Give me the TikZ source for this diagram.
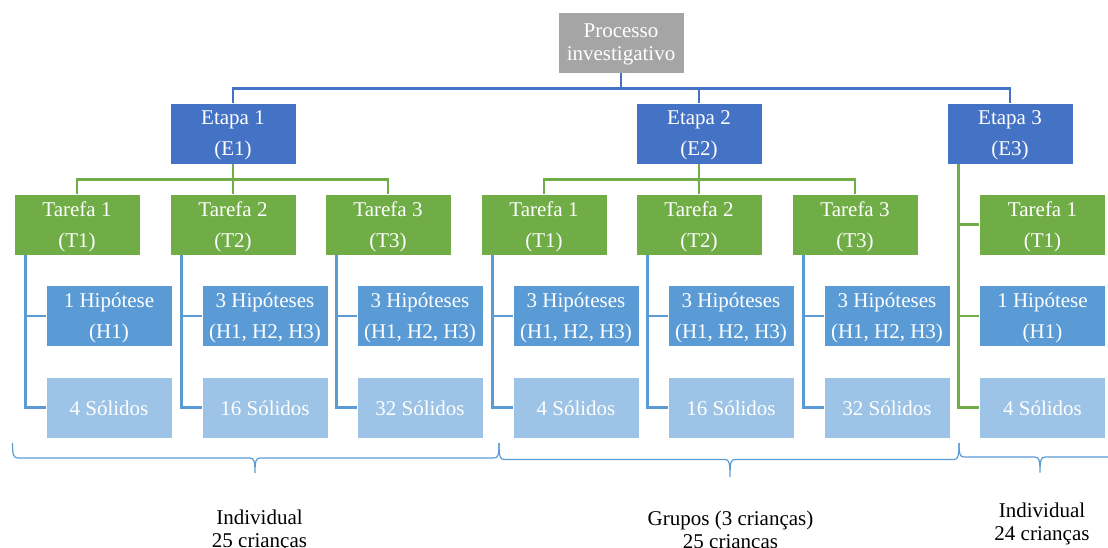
\documentclass[tikz,border=0pt]{standalone}
\usepackage{fontspec}
\setmainfont{Liberation Serif}
\definecolor{cgray}{HTML}{A5A5A5}
\definecolor{cdark}{HTML}{4472C4}
\definecolor{cgreen}{HTML}{70AD47}
\definecolor{cmid}{HTML}{5B9BD5}
\definecolor{clight}{HTML}{9DC3E6}
\begin{document}
\begin{tikzpicture}[x=1pt,y=-1pt,
 box/.style={minimum width=126pt,minimum height=61pt,inner sep=0pt,text depth=0pt,draw=white,line width=0.6pt,text=white,align=center,font=\fontsize{21}{31}\selectfont},
 proc/.style={box,fill=cgray,font=\fontsize{21}{23}\selectfont},
 etapa/.style={box,fill=cdark},
 tarefa/.style={box,fill=cgreen},
 hip/.style={box,fill=cmid},
 sol/.style={box,fill=clight,text height=15pt},
 bconn/.style={draw=cdark,line width=2.6pt},
 gconn/.style={draw=cgreen,line width=2.6pt},
 hconn/.style={draw=cmid,line width=2.6pt},
 bracel/.style={draw=cmid,line width=1.2pt},
 lab/.style={align=center,font=\fontsize{21}{23}\selectfont,text=black,inner sep=0pt}]
\useasboundingbox (0,0) rectangle (1108,548);

% top
\node[proc] (p) at (621,42.5) {Processo\\investigativo};
% etapas
\node[etapa] (e1) at (233,133.5) {Etapa 1\\(E1)};
\node[etapa] (e2) at (699,133.5) {Etapa 2\\(E2)};
\node[etapa] (e3) at (1010,133.5) {Etapa 3\\(E3)};
% tarefas
\node[tarefa] (t1) at (77,224.5) {Tarefa 1\\(T1)};
\node[tarefa] (t2) at (233,224.5) {Tarefa 2\\(T2)};
\node[tarefa] (t3) at (388,224.5) {Tarefa 3\\(T3)};
\node[tarefa] (t4) at (544,224.5) {Tarefa 1\\(T1)};
\node[tarefa] (t5) at (699,224.5) {Tarefa 2\\(T2)};
\node[tarefa] (t6) at (855,224.5) {Tarefa 3\\(T3)};
\node[tarefa] (t7) at (1042.5,224.5) {Tarefa 1\\(T1)};
% hipoteses
\node[hip] (h1) at (109,316) {1 Hipótese\\(H1)};
\node[hip] (h2) at (265,316) {3 Hipóteses\\(H1, H2, H3)};
\node[hip] (h3) at (420,316) {3 Hipóteses\\(H1, H2, H3)};
\node[hip] (h4) at (576,316) {3 Hipóteses\\(H1, H2, H3)};
\node[hip] (h5) at (731,316) {3 Hipóteses\\(H1, H2, H3)};
\node[hip] (h6) at (887,316) {3 Hipóteses\\(H1, H2, H3)};
\node[hip] (h7) at (1042.5,316) {1 Hipótese\\(H1)};
% solidos
\node[sol] (s1) at (109,407.5) {4 Sólidos};
\node[sol] (s2) at (265,407.5) {16 Sólidos};
\node[sol] (s3) at (420,407.5) {32 Sólidos};
\node[sol] (s4) at (576,407.5) {4 Sólidos};
\node[sol] (s5) at (731,407.5) {16 Sólidos};
\node[sol] (s6) at (887,407.5) {32 Sólidos};
\node[sol] (s7) at (1042.5,407.5) {4 Sólidos};

% connectors top
\draw[bconn] (p.south) -- ++(0,15) -| (e1.north);
\draw[bconn] (p.south) -- ++(0,15) -| (e2.north);
\draw[bconn] (p.south) -- ++(0,15) -| (e3.north);
% etapa -> tarefa
\draw[gconn] (e1.south) -- ++(0,15) -| (t1.north);
\draw[gconn] (e1.south) -- (t2.north);
\draw[gconn] (e1.south) -- ++(0,15) -| (t3.north);
\draw[gconn] (e2.south) -- ++(0,15) -| (t4.north);
\draw[gconn] (e2.south) -- (t5.north);
\draw[gconn] (e2.south) -- ++(0,15) -| (t6.north);
\draw[gconn] ([xshift=12pt]e3.south west) |- (t7.west);
\draw[gconn] ([xshift=12pt]e3.south west) |- (h7.west);
\draw[gconn] ([xshift=12pt]e3.south west) |- (s7.west);
% tarefa -> hip, sol
\foreach \i in {1,...,6}{
  \draw[hconn] ([xshift=12pt]t\i.south west) |- (h\i.west);
  \draw[hconn] ([xshift=12pt]t\i.south west) |- (s\i.west);
}

% braces
\draw[bracel] (12.5,443) .. controls (12.5,455) and (13.5,458) .. (18,458)
  -- (250,458) .. controls (254,458) and (255,461) .. (255,473)
  .. controls (255,461) and (256,458) .. (260,458)
  -- (494,458) .. controls (498,458) and (499,455) .. (499,443);
\draw[bracel] (499,443) .. controls (499,456) and (500,459.5) .. (504,459.5)
  -- (725,459.5) .. controls (729,459.5) and (730,462) .. (730,477)
  .. controls (730,462) and (731,459.5) .. (735,459.5)
  -- (954,459.5) .. controls (958,459.5) and (959,456) .. (959,443);
\draw[bracel] (959,443) .. controls (959,454) and (960,457) .. (964,457)
  -- (1035,457) .. controls (1039,457) and (1040,460) .. (1040,472.5)
  .. controls (1040,460) and (1041,457) .. (1045,457)
  -- (1120,457);

% labels
\node[lab] (l1) at (259.5,530.5) {Individual\\25 crianças};
\node[lab] (l2) at (730.5,531.5) {Grupos (3 crianças)\\25 crianças};
\node[lab] (l3) at (1042,523.5) {Individual\\24 crianças};
\end{tikzpicture}
\end{document}
